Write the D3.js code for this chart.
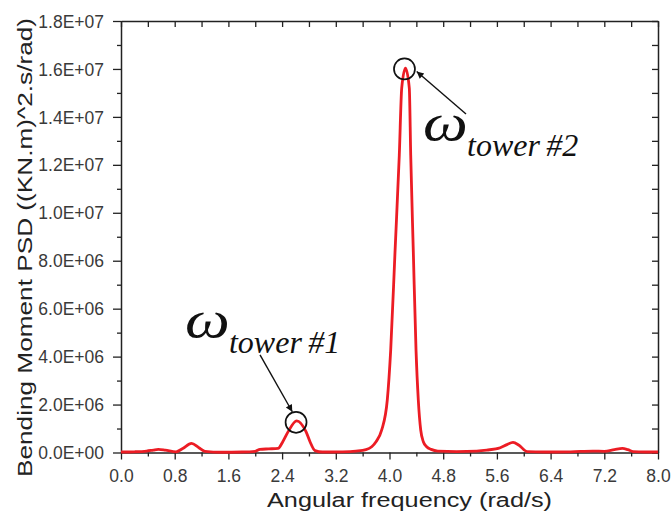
<!DOCTYPE html>
<html>
<head>
<meta charset="utf-8">
<script src="https://cdn.jsdelivr.net/npm/d3@7"></script>
<style>
  html, body { margin: 0; padding: 0; background: #fff; }
  svg { display: block; }
</style>
</head>
<body>
<div id="chart"></div>
<script>
// ---- data ----
const freq = [0.0, 0.2, 0.38, 0.48, 0.556, 0.66, 0.82, 0.92, 1.05, 1.16, 1.25, 1.5, 1.8, 2.0, 2.07, 2.2, 2.34,
  2.41, 2.49, 2.617, 2.756, 2.816, 2.89, 3.0, 3.3, 3.5, 3.65, 3.735, 3.799, 3.884, 3.967, 4.018, 4.082,
  4.146, 4.182, 4.238, 4.295, 4.316, 4.355, 4.395, 4.429, 4.465, 4.504, 4.554, 4.62, 4.72, 5.0, 5.3,
  5.45, 5.65, 5.75, 5.84, 5.93, 6.05, 6.3, 6.7, 7.03, 7.2, 7.35, 7.47, 7.55, 7.63, 7.8, 8.0];
const psd = [0.02e6, 0.03e6, 0.06e6, 0.1e6, 0.13e6, 0.1e6, 0.03e6, 0.17e6, 0.38e6, 0.2e6, 0.05e6, 0.01e6, 0.02e6, 0.05e6, 0.13e6, 0.15e6, 0.17e6,
  0.45e6, 0.87e6, 1.32e6, 0.87e6, 0.45e6, 0.08e6, 0.02e6, 0.03e6, 0.06e6, 0.12e6, 0.24e6, 0.45e6, 0.94e6, 2.19e6, 4.28e6, 8.36e6,
  12.41e6, 15.2e6, 16.03e6, 15.2e6, 12.41e6, 8.36e6, 4.28e6, 2.19e6, 0.94e6, 0.45e6, 0.24e6, 0.13e6, 0.06e6, 0.04e6, 0.06e6,
  0.1e6, 0.2e6, 0.33e6, 0.42e6, 0.3e6, 0.04e6, 0.02e6, 0.03e6, 0.06e6, 0.05e6, 0.12e6, 0.17e6, 0.12e6, 0.04e6, 0.02e6, 0.02e6];

const xTicks = [0.0, 0.8, 1.6, 2.4, 3.2, 4.0, 4.8, 5.6, 6.4, 7.2, 8.0];
const xTickLabels = ["0.0", "0.8", "1.6", "2.4", "3.2", "4.0", "4.8", "5.6", "6.4", "7.2", "8.0"];
const xMinor = [0.4, 1.2, 2.0, 2.8, 3.6, 4.4, 5.2, 6.0, 6.8, 7.6];
const yTicks = [0, 2e6, 4e6, 6e6, 8e6, 1e7, 1.2e7, 1.4e7, 1.6e7, 1.8e7];
const yTickLabels = ["0.0E+00", "2.0E+06", "4.0E+06", "6.0E+06", "8.0E+06", "1.0E+07", "1.2E+07", "1.4E+07", "1.6E+07", "1.8E+07"];
const yMinor = [1e6, 3e6, 5e6, 7e6, 9e6, 1.1e7, 1.3e7, 1.5e7, 1.7e7];

const xTitle = "Angular frequency (rad/s)";
const yTitle = "Bending Moment PSD ((KN.m)^2.s/rad)";

// annotations in data units: circle centre, arrow tail, arrow tip, label anchor
const annFreq  = [2.608, 4.223];
const annValue = [1.26e6, 16.0e6];
const arrowFrom = [[2.071, 4.07e6], [5.14, 14.12e6]];
const arrowTo   = [[2.552, 1.70e6], [4.405, 15.89e6]];
const labelAt   = [[0.953, 4.82e6], [4.499, 13.04e6]];
const labelSub  = ["tower\u2009#1", "tower\u2009#2"];

// ---- layout ----
const W = 671, H = 522;
const L = 121, R = 658, T = 21, B = 452.5;

const svg = d3.select("#chart").append("svg").attr("width", W).attr("height", H);

const x = d3.scaleLinear().domain([0, 8]).range([L, R]);
const y = d3.scaleLinear().domain([0, 1.8e7]).range([B, T]);

const axisColor = "#222";
const textColor = "#3a3a3a";
const tickFont = "Liberation Sans, Arial, sans-serif";

function styleAxis(g) {
  g.selectAll(".domain").attr("stroke", axisColor).attr("stroke-width", 1.5);
  g.selectAll(".tick line").attr("stroke", axisColor).attr("stroke-width", 1.3);
  g.selectAll(".tick text").attr("fill", textColor).style("font-family", tickFont).style("font-size", "17.5px");
}

// bottom
const gx = svg.append("g").attr("transform", `translate(0,${B})`)
  .call(d3.axisBottom(x).tickValues(xTicks).tickFormat((d, i) => xTickLabels[i]).tickSize(7).tickPadding(10).tickSizeOuter(0));
styleAxis(gx);
svg.append("g").attr("transform", `translate(0,${B})`)
  .call(d3.axisBottom(x).tickValues(xMinor).tickFormat("").tickSize(4).tickSizeOuter(0))
  .call(g => { g.select(".domain").remove(); g.selectAll("line").attr("stroke", axisColor).attr("stroke-width", 1.3); });

// left
const gy = svg.append("g").attr("transform", `translate(${L},0)`)
  .call(d3.axisLeft(y).tickValues(yTicks).tickFormat((d, i) => yTickLabels[i]).tickSize(8).tickPadding(9).tickSizeOuter(0));
styleAxis(gy);
gy.selectAll(".tick text").attr("dy", "0.35em");
svg.append("g").attr("transform", `translate(${L},0)`)
  .call(d3.axisLeft(y).tickValues(yMinor).tickFormat("").tickSize(4).tickSizeOuter(0))
  .call(g => { g.select(".domain").remove(); g.selectAll("line").attr("stroke", axisColor).attr("stroke-width", 1.3); });

// top (ticks inward)
svg.append("g").attr("transform", `translate(0,${T})`)
  .call(d3.axisBottom(x).tickValues(xTicks.concat(xMinor)).tickFormat("").tickSize(6).tickSizeOuter(0))
  .call(g => { g.select(".domain").attr("stroke", axisColor).attr("stroke-width", 1.5); g.selectAll("line").attr("stroke", axisColor).attr("stroke-width", 1.3); });

// right (ticks inward)
svg.append("g").attr("transform", `translate(${R},0)`)
  .call(d3.axisLeft(y).tickValues(yTicks.concat(yMinor)).tickFormat("").tickSize(6).tickSizeOuter(0))
  .call(g => { g.select(".domain").attr("stroke", axisColor).attr("stroke-width", 1.5); g.selectAll("line").attr("stroke", axisColor).attr("stroke-width", 1.3); });

// curve
const pts = freq.map((f, i) => [f, psd[i]]);
const line = d3.line().x(d => x(d[0])).y(d => y(d[1])).curve(d3.curveMonotoneX);
svg.append("path").datum(pts)
  .attr("d", line)
  .attr("fill", "none")
  .attr("stroke", "#ec1c24")
  .attr("stroke-width", 2.8)
  .attr("stroke-linejoin", "round");

// arrow marker
svg.append("defs").append("marker")
  .attr("id", "ah").attr("viewBox", "0 0 10 10").attr("refX", 10).attr("refY", 5)
  .attr("markerWidth", 11).attr("markerHeight", 7).attr("markerUnits", "userSpaceOnUse")
  .attr("orient", "auto")
  .append("path").attr("d", "M0,0 L10,5 L0,10 Z").attr("fill", "#111");

annFreq.forEach((f, i) => {
  svg.append("circle")
    .attr("cx", x(f)).attr("cy", y(annValue[i])).attr("r", 10.5)
    .attr("fill", "none").attr("stroke", "#111").attr("stroke-width", 1.7);
  svg.append("line")
    .attr("x1", x(arrowFrom[i][0])).attr("y1", y(arrowFrom[i][1]))
    .attr("x2", x(arrowTo[i][0])).attr("y2", y(arrowTo[i][1]))
    .attr("stroke", "#111").attr("stroke-width", 1.4)
    .attr("marker-end", "url(#ah)");
  const lx = x(labelAt[i][0]), ly = y(labelAt[i][1]);
  svg.append("text")
    .attr("transform", `translate(${lx},${ly}) scale(1.22,1)`)
    .style("font-family", "Liberation Serif, Times New Roman, serif")
    .style("font-style", "italic").style("font-size", "52px").attr("fill", "#111")
    .text("ω");
  svg.append("text")
    .attr("x", lx + 44).attr("y", ly + 16)
    .style("font-family", "Liberation Serif, Times New Roman, serif")
    .style("font-style", "italic").style("font-size", "32px").attr("fill", "#111")
    .text(labelSub[i]);
});

// axis titles
svg.append("text")
  .attr("x", (267 + 552) / 2).attr("y", 507)
  .attr("text-anchor", "middle")
  .attr("textLength", 285).attr("lengthAdjust", "spacingAndGlyphs")
  .style("font-family", tickFont).style("font-size", "20px").attr("fill", "#222")
  .text(xTitle);

svg.append("text")
  .attr("transform", `translate(32,${(18 + 477) / 2}) rotate(-90)`)
  .attr("text-anchor", "middle")
  .attr("textLength", 459).attr("lengthAdjust", "spacingAndGlyphs")
  .style("font-family", tickFont).style("font-size", "20px").attr("fill", "#222")
  .text(yTitle);
</script>
</body>
</html>
